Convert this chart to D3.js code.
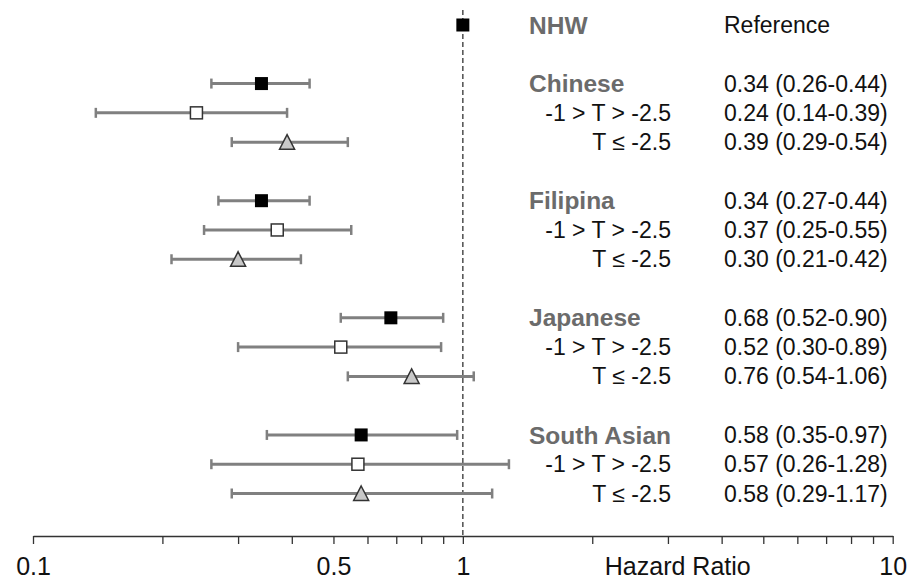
<!DOCTYPE html>
<html>
<head>
<meta charset="utf-8">
<script src="https://cdn.jsdelivr.net/npm/d3@7"></script>
<style>
  body { margin: 0; background: #fff; }
  text { font-family: "Liberation Sans", Arial, sans-serif; }
</style>
</head>
<body>
<script>
// groups and subgroup rows
var groups = ["Chinese", "Filipina", "Japanese", "South Asian"];
var subgroups = ["-1 > T > -2.5", "T \u2264 -2.5"];
var refLabel = "NHW", refText = "Reference", refHR = 1;
// hazard ratios: [overall, -1>T>-2.5, T<=-2.5] per group
var hr = [[0.34, 0.24, 0.39], [0.34, 0.37, 0.30], [0.68, 0.52, 0.76], [0.58, 0.57, 0.58]];
var lo = [[0.26, 0.14, 0.29], [0.27, 0.25, 0.21], [0.52, 0.30, 0.54], [0.35, 0.26, 0.29]];
var hi = [[0.44, 0.39, 0.54], [0.44, 0.55, 0.42], [0.90, 0.89, 1.06], [0.97, 1.28, 1.17]];
// axis ticks
var tickVals = [0.1, 0.2, 0.3, 0.4, 0.5, 0.6, 0.7, 0.8, 0.9, 1, 2, 3, 4, 5, 6, 7, 8, 9, 10];
var tickLabels = [0.1, 0.5, 1, 10];
var axisTitle = "Hazard Ratio";

var width = 915, height = 580;
var axisY = 536;
var labelX = 529, subRightX = 671, valueX = 724;
var barColor = "#808080", labelGray = "#6b6b6b", ink = "#111";

var svg = d3.select("body").append("svg")
  .attr("width", width)
  .attr("height", height);

var x = d3.scaleLog().domain([0.1, 10]).range([33, 892.7]);
var y = d3.scaleLinear().domain([0, 16]).range([25, 493.5]);

// build rows
var rows = [];
groups.forEach(function(g, gi) {
  for (var k = 0; k < 3; k++) {
    rows.push({
      idx: 2 + gi * 4 + k,
      kind: k,
      label: k === 0 ? g : subgroups[k - 1],
      hr: hr[gi][k], lo: lo[gi][k], hi: hi[gi][k]
    });
  }
});

var fmt = d3.format(".2f");

// reference dashed line at HR = 1
svg.append("line")
  .attr("x1", x(refHR)).attr("x2", x(refHR))
  .attr("y1", 10).attr("y2", axisY)
  .attr("stroke", "#333")
  .attr("stroke-width", 1.3)
  .attr("stroke-dasharray", "5,3");

// axis
var axis = d3.axisBottom(x)
  .tickValues(tickVals)
  .tickFormat(function(d) { return tickLabels.indexOf(d) >= 0 ? d3.format("")(d) : ""; })
  .tickSize(8)
  .tickSizeOuter(0)
  .tickPadding(13);

var gAxis = svg.append("g")
  .attr("transform", "translate(0," + axisY + ")")
  .call(axis);
gAxis.select(".domain").attr("stroke", "#333").attr("stroke-width", 1.5);
gAxis.selectAll(".tick line").attr("stroke", "#333").attr("stroke-width", 1.3);
gAxis.selectAll(".tick text")
  .attr("fill", ink)
  .style("font-size", "25px")
  .style("font-family", "'Liberation Sans', Arial, sans-serif");

svg.append("text")
  .attr("x", x(Math.sqrt(10)))
  .attr("y", 575)
  .attr("text-anchor", "middle")
  .attr("fill", ink)
  .style("font-size", "25px")
  .text(axisTitle);

// error bars
var bars = svg.append("g");
rows.forEach(function(r) {
  var yy = y(r.idx);
  bars.append("line")
    .attr("x1", x(r.lo)).attr("x2", x(r.hi))
    .attr("y1", yy).attr("y2", yy)
    .attr("stroke", barColor).attr("stroke-width", 3);
  [r.lo, r.hi].forEach(function(v) {
    bars.append("line")
      .attr("x1", x(v)).attr("x2", x(v))
      .attr("y1", yy - 5).attr("y2", yy + 5)
      .attr("stroke", barColor).attr("stroke-width", 2.5);
  });
});

// markers
function drawMarker(kind, cx, cy) {
  if (kind === 0) {
    svg.append("rect")
      .attr("x", cx - 6.5).attr("y", cy - 6.5)
      .attr("width", 13).attr("height", 13)
      .attr("fill", "#000");
  } else if (kind === 1) {
    svg.append("rect")
      .attr("x", cx - 6).attr("y", cy - 6)
      .attr("width", 12).attr("height", 12)
      .attr("fill", "#fff")
      .attr("stroke", "#333").attr("stroke-width", 1.5);
  } else {
    var p = d3.path();
    p.moveTo(cx, cy - 7.5);
    p.lineTo(cx + 7.5, cy + 7);
    p.lineTo(cx - 7.5, cy + 7);
    p.closePath();
    svg.append("path")
      .attr("d", p.toString())
      .attr("fill", "#c8c8c8")
      .attr("stroke", "#333").attr("stroke-width", 1.5)
      .attr("stroke-linejoin", "miter");
  }
}
drawMarker(0, x(refHR), y(0));
rows.forEach(function(r) { drawMarker(r.kind, x(r.hr), y(r.idx)); });

// labels
var txt = svg.append("g").style("font-size", "23px");
txt.append("text")
  .attr("x", labelX).attr("y", y(0)).attr("dy", "0.35em")
  .attr("fill", labelGray).style("font-weight", "bold").style("font-size", "24.5px")
  .text(refLabel);
txt.append("text")
  .attr("x", valueX).attr("y", y(0)).attr("dy", "0.35em")
  .attr("fill", ink)
  .text(refText);

rows.forEach(function(r) {
  var t = txt.append("text")
    .attr("y", y(r.idx)).attr("dy", "0.35em")
    .text(r.label);
  if (r.kind === 0) {
    t.attr("x", labelX).attr("fill", labelGray)
      .style("font-weight", "bold").style("font-size", "24.5px");
  } else {
    t.attr("x", subRightX).attr("text-anchor", "end").attr("fill", ink);
  }
  txt.append("text")
    .attr("x", valueX).attr("y", y(r.idx)).attr("dy", "0.35em")
    .attr("fill", ink)
    .text(fmt(r.hr) + " (" + fmt(r.lo) + "-" + fmt(r.hi) + ")");
});
</script>
</body>
</html>
